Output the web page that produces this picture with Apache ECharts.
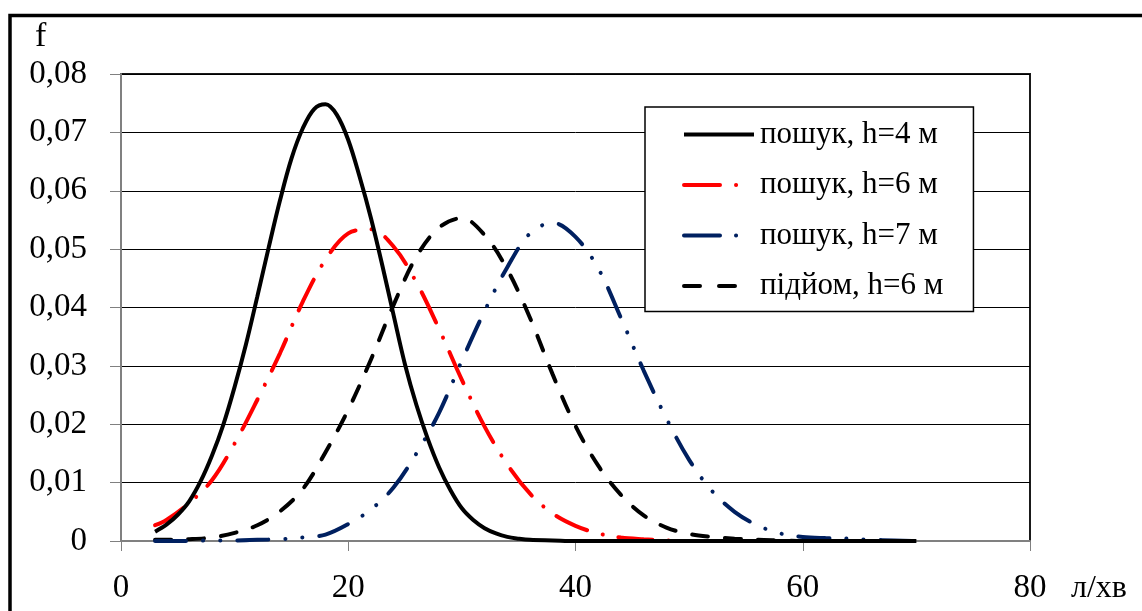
<!DOCTYPE html>
<html>
<head>
<meta charset="utf-8">
<script src="https://cdn.jsdelivr.net/npm/echarts@6/dist/echarts.min.js"></script>
<style>
html,body{margin:0;padding:0;background:#fff;}
#chart{width:1142px;height:611px;}
</style>
</head>
<body>
<div id="chart"></div>
<script>
// ---- data ----
var seriesNames = ['пошук, h=4 м', 'пошук, h=6 м', 'пошук, h=7 м', 'підйом, h=6 м'];

// пошук, h=4 м  (narrow peak, read every 1 л/хв)
var search4X = [3, 4, 5, 6, 7, 8, 9, 10, 11, 12, 13, 14, 15, 16, 17, 18, 19, 20, 21, 22, 23, 24, 25, 26, 27, 28, 29, 30, 31, 32, 33, 34, 35, 36, 38, 40, 45, 50, 55, 60, 65, 70];
var search4Y = [0.0016, 0.0028, 0.0045, 0.0068, 0.0102, 0.0146, 0.0199, 0.0264, 0.0337, 0.0419, 0.0503, 0.0584, 0.0655, 0.0707, 0.0740, 0.0748, 0.0730, 0.0687, 0.0624, 0.0553, 0.0472, 0.0386, 0.0302, 0.0233, 0.0175, 0.0126, 0.0087, 0.0056, 0.0036, 0.0022, 0.0013, 0.0007, 0.0004, 0.0002, 0.0001, 0, 0, 0, 0, 0, 0, 0];

// the other curves, read every 2 л/хв
var xValues = [3, 4, 6, 8, 10, 12, 14, 16, 18, 20, 22, 24, 26, 28, 30, 32, 34, 36, 38, 40, 42, 44, 46, 48, 50, 52, 54, 56, 58, 60, 62, 64, 66, 68, 70];
// пошук, h=6 м (drawn up to x = 64)
var search6 = [0.0027, 0.0036, 0.0065, 0.0104, 0.0167, 0.0242, 0.0322, 0.0410, 0.0482, 0.0527, 0.0534, 0.0504, 0.0443, 0.0363, 0.0276, 0.0196, 0.0131, 0.0081, 0.0047, 0.0026, 0.0013, 0.0006, 0.0003, 0.0001, 0, 0, 0, 0, 0, 0, 0, 0];
// пошук, h=7 м
var search7 = [0, 0, 0, 0.0001, 0.0001, 0.0002, 0.0003, 0.0006, 0.0011, 0.0029, 0.0054, 0.0092, 0.0150, 0.0220, 0.0309, 0.0394, 0.0469, 0.0527, 0.0545, 0.0521, 0.0467, 0.0382, 0.0292, 0.0210, 0.0139, 0.0086, 0.0050, 0.0027, 0.0013, 0.0007, 0.0005, 0.0004, 0.0002, 0.0001, 0];
// підйом, h=6 м
var lift6 = [0.0002, 0.0002, 0.0003, 0.0006, 0.0014, 0.0027, 0.0051, 0.0089, 0.0152, 0.0225, 0.0311, 0.0405, 0.0487, 0.0537, 0.0553, 0.0524, 0.0465, 0.0382, 0.0285, 0.0197, 0.0129, 0.0079, 0.0044, 0.0023, 0.0012, 0.0007, 0.0004, 0.0002, 0.0001, 0, 0, 0, 0, 0, 0];

var yTickLabels = ['0', '0,01', '0,02', '0,03', '0,04', '0,05', '0,06', '0,07', '0,08'];
var xTickLabels = ['0', '20', '40', '60', '80'];
var yAxisTitle = 'f';
var xAxisTitle = 'л/хв';

function pairs(xs, ys) { return ys.map(function (y, i) { return [xs[i], y]; }); }

var FONT = '"Liberation Serif", "Times New Roman", serif';
var LW = 4;

var chart = echarts.init(document.getElementById('chart'));
chart.setOption({
  animation: false,
  backgroundColor: '#ffffff',
  textStyle: { fontFamily: FONT },
  grid: { left: 121, top: 74, width: 909, height: 467, show: true, borderColor: '#1a1a1a', borderWidth: 2, backgroundColor: 'transparent' },
  legend: {
    orient: 'vertical',
    left: 645, top: 107,
    padding: [12, 30, 10, 37],
    itemWidth: 70, itemHeight: 14, itemGap: 19.5,
    backgroundColor: '#fff',
    borderColor: '#000', borderWidth: 1.5, borderRadius: 0,
    itemStyle: { opacity: 0 },
    lineStyle: { width: LW },
    textStyle: { fontFamily: FONT, fontSize: 31, color: '#000', lineHeight: 30, padding: [0, 0, 0, 1] },
    data: [
      { name: seriesNames[0] },
      { name: seriesNames[1], lineStyle: { width: LW, type: [36, 16, 0.1, 200], cap: 'round' } },
      { name: seriesNames[2], lineStyle: { width: LW, type: [36, 16, 0.1, 200], cap: 'round' } },
      { name: seriesNames[3], lineStyle: { width: LW, type: [16, 19, 16, 200], cap: 'round' } }
    ]
  },
  xAxis: {
    type: 'value', min: 0, max: 80, interval: 20,
    axisLine: { show: true, lineStyle: { color: '#808080', width: 2 } },
    axisTick: { show: true, length: 10, lineStyle: { color: '#808080', width: 1 } },
    axisLabel: { fontFamily: FONT, fontSize: 33, color: '#000', margin: 31,
      formatter: function (v) { return xTickLabels[Math.round(v / 20)]; } },
    splitLine: { show: false }
  },
  yAxis: {
    type: 'value', min: 0, max: 0.08, interval: 0.01,
    axisLine: { show: true, lineStyle: { color: '#808080', width: 2 } },
    axisTick: { show: true, length: 11, lineStyle: { color: '#808080', width: 1 } },
    axisLabel: { fontFamily: FONT, fontSize: 33, color: '#000', margin: 34,
      formatter: function (v) { return yTickLabels[Math.round(v / 0.01)]; } },
    splitLine: { show: true, lineStyle: { color: '#000', width: 1 } }
  },
  graphic: [
    { type: 'rect', shape: { x: 10, y: 15.5, width: 1150, height: 620 }, style: { fill: 'none', stroke: '#000', lineWidth: 3.5 }, silent: true, z: 100 },
    { type: 'text', left: 35, top: 20, style: { text: yAxisTitle, font: '34px ' + FONT, fill: '#000' }, z: 100 },
    { type: 'text', x: 1071, y: 589, style: { text: xAxisTitle, font: '32px ' + FONT, fill: '#000', verticalAlign: 'middle' }, z: 100 }
  ],
  series: [
    { name: seriesNames[3], type: 'line', data: pairs(xValues, lift6), showSymbol: false, symbol: 'none', smooth: 0.35, z: 2,
      lineStyle: { color: '#000000', width: LW, type: [16, 17], cap: 'round' }, itemStyle: { color: '#000' } },
    { name: seriesNames[2], type: 'line', data: pairs(xValues, search7), showSymbol: false, symbol: 'none', smooth: 0.35, z: 3,
      lineStyle: { color: '#002060', width: LW, type: [31, 17, 0.1, 17, 0.1, 17], cap: 'round' }, itemStyle: { color: '#002060' } },
    { name: seriesNames[1], type: 'line', data: pairs(xValues, search6), showSymbol: false, symbol: 'none', smooth: 0.35, z: 4,
      lineStyle: { color: '#ff0000', width: LW, type: [34, 16, 0.1, 16], cap: 'round' }, itemStyle: { color: '#ff0000' } },
    { name: seriesNames[0], type: 'line', data: pairs(search4X, search4Y), showSymbol: false, symbol: 'none', smooth: 0.35, z: 5,
      lineStyle: { color: '#000000', width: LW, type: 'solid' }, itemStyle: { color: '#000' } }
  ]
});
</script>
</body>
</html>
